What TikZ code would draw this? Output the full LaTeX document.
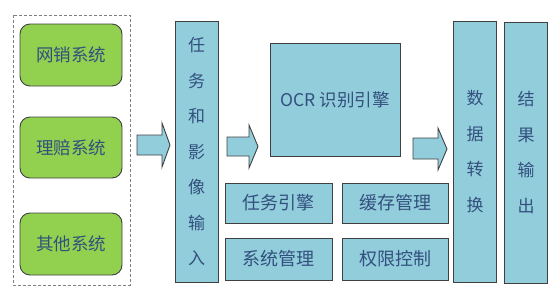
\documentclass[tikz,border=0pt]{standalone}
\usepackage{fontspec}
\setmainfont{Noto Sans CJK SC}
\begin{document}
\begin{tikzpicture}[x=1pt,y=-1pt,
  txt/.style={text=txtc},
  greenbox/.style={draw=edgec,line width=0.9pt,fill=greenc,rounded corners=10pt,minimum width=102pt,txt,font=\fontsize{17.5}{20}\selectfont},
  bluebox/.style={draw=edgec,line width=0.9pt,fill=bluec,txt},
  vbox/.style={bluebox,minimum width=43pt,minimum height=261pt,align=center,font=\fontsize{17}{35.5}\selectfont},
  smallbox/.style={bluebox,minimum height=40pt,font=\fontsize{18}{20}\selectfont},
  blockarrow/.style={draw=edgec,line width=0.9pt,fill=bluec,line join=miter}
]
\definecolor{txtc}{RGB}{50,80,125}
\definecolor{edgec}{RGB}{64,64,64}
\definecolor{greenc}{RGB}{146,208,80}
\definecolor{bluec}{RGB}{146,205,220}
\useasboundingbox (0,0) rectangle (554,293);
\draw[gray,densely dashed,line width=0.7pt] (13,15) rectangle (130,285);
\node[greenbox,minimum height=62pt] (wx) at (71,55) {网销系统\hspace{6pt}};
\node[greenbox,minimum height=61pt] (lp) at (71,147.5) {理赔系统\hspace{6pt}};
\node[greenbox,minimum height=62pt] (qt) at (71,244) {其他系统\hspace{6pt}};
\node[vbox] (rw) at (196.5,151.5) {任\\务\\和\\影\\像\\输\\入};
\node[bluebox,minimum width=130pt,minimum height=113pt,font=\fontsize{17.5}{20}\selectfont] (ocr) at (335,99.5) {OCR 识别引擎};
\node[smallbox,minimum width=107pt] (a) at (278.5,203) {任务引擎\hspace{14pt}};
\node[smallbox,minimum width=106pt] (b) at (395,203) {缓存管理\hspace{14pt}};
\node[smallbox,minimum width=107pt,minimum height=42pt] (c) at (278.5,259) {系统管理\hspace{14pt}};
\node[smallbox,minimum width=106pt,minimum height=42pt] (d) at (395,259) {权限控制\hspace{14pt}};
\node[vbox] (sj) at (475,151.5) {数\\据\\转\\换};
\node[vbox] (jg) at (526,152.5) {结\\果\\输\\出};
\path[blockarrow] (137,135) -- (162,135) -- (162,123) -- (170,145) -- (162,167) -- (162,155) -- (137,155) -- cycle;
\path[blockarrow] (227,137) -- (249,137) -- (249,125) -- (258,146.5) -- (249,168) -- (249,156) -- (227,156) -- cycle;
\path[blockarrow] (413,138) -- (438,138) -- (438,128) -- (447,149) -- (438,170) -- (438,159) -- (413,159) -- cycle;
\end{tikzpicture}
\end{document}
